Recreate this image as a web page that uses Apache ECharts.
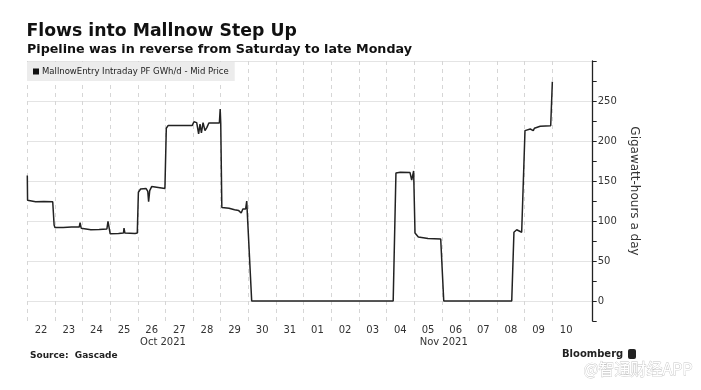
<!DOCTYPE html>
<html>
<head>
<meta charset="utf-8">
<script src="https://cdn.jsdelivr.net/npm/echarts@6/dist/echarts.min.js"></script>
<style>
html,body{margin:0;padding:0;background:#fff;}
#chart{width:701px;height:390px;}
</style>
</head>
<body>
<div id="chart"></div>
<script>
// ---- data (x = days since 22 Oct 2021 00:00, y = GWh/d) ----
var flowDays = [
  0, 0.01, 0.3, 0.6, 0.92, 0.97, 1.0, 1.3, 1.6, 1.88,
  1.91, 1.95, 2.0, 2.3, 2.6, 2.88, 2.92, 2.96, 3.0, 3.3,
  3.48, 3.5, 3.53, 3.9, 3.98, 4.02, 4.1, 4.3, 4.36, 4.39,
  4.43, 4.5, 4.55, 4.98, 5.03, 5.1, 5.5, 5.97, 6.03, 6.13,
  6.2, 6.25, 6.3, 6.36, 6.43, 6.5, 6.57, 6.95, 6.98, 7.0,
  7.04, 7.1, 7.3, 7.5, 7.65, 7.74, 7.8, 7.9, 7.94, 7.98,
  8.02, 8.12, 13.24, 13.34, 13.5, 13.85, 13.91, 13.98, 14.03, 14.15,
  14.5, 14.96, 14.98, 15.07, 17.53, 17.61, 17.71, 17.89, 17.95, 18.01,
  18.2, 18.31, 18.35, 18.56, 18.94, 19.0
];
var flowValues = [
  157, 126, 124, 124.5, 124, 95, 92, 92, 92.5, 92.5,
  98, 91, 89.5, 89, 89.5, 90, 99.5, 97, 84, 84.5,
  85, 91, 85, 84.5, 85, 136, 140, 140.5, 137, 124,
  138, 143, 140.5, 140.5, 216, 219.5, 219.5, 219.5, 224, 223,
  209, 221, 210, 223, 213, 217, 222.5, 222.5, 240, 222,
  117, 115.5, 116, 114, 113, 110, 115, 115, 125, 97,
  96, 0, 0, 160, 161, 160.5, 151, 162.5, 85, 80,
  78, 77.5, 80, 0, 0, 86, 89, 86, 87, 213,
  215, 213, 216, 218.5, 219, 274
];
var dayLabels = ['22','23','24','25','26','27','28','29','30','31',
                 '01','02','03','04','05','06','07','08','09','10'];
var monthLabels = ['Oct 2021', 'Nov 2021'];
var monthPositions = [4.91, 15.07];
var yTickLabels = [0, 50, 100, 150, 200, 250];
var yGridValues = [0, 50, 100, 150, 200, 250, 300];
var seriesName = 'MallnowEntry Intraday PF GWh/d - Mid Price';

var xMin = 0, xMax = 20.46;
var yMin = -25, yMax = 300;

var seriesData = flowDays.map(function (d, i) { return [d, flowValues[i]]; });
var dayLabelPos = dayLabels.map(function (_, i) { return i + 0.5; });
var dayGridPos = dayLabels.map(function (_, i) { return i; });

var FONT = '"DejaVu Sans", Verdana, sans-serif';

var chart = echarts.init(document.getElementById('chart'), null, {renderer: 'canvas'});
chart.setOption({
  animation: false,
  backgroundColor: '#ffffff',
  title: [
    {text: 'Flows into Mallnow Step Up', left: 26.5, top: 23, padding: 0,
     textStyle: {fontFamily: FONT, fontWeight: 'bold', fontSize: 17.3, color: '#111'}},
    {text: 'Pipeline was in reverse from Saturday to late Monday', left: 27, top: 43, padding: 0,
     textStyle: {fontFamily: FONT, fontWeight: 'bold', fontSize: 12.7, color: '#111'}}
  ],
  legend: {
    left: 27, top: 62,
    padding: [5, 6, 5, 6],
    backgroundColor: '#ececec',
    icon: 'rect', itemWidth: 6, itemHeight: 6, itemGap: 4,
    textStyle: {fontFamily: FONT, fontSize: 8.5, color: '#222', padding: [0, 0, 0, -2]},
    data: [seriesName]
  },
  grid: {left: 27.3, right: 108.3, top: 61, bottom: 69},
  xAxis: [
    {
      type: 'value', min: xMin, max: xMax, interval: 1,
      axisLine: {show: false, onZero: false},
      axisTick: {show: false, customValues: dayGridPos},
      splitLine: {show: true, lineStyle: {color: '#d6d6d6', type: [4, 4], width: 1}},
      axisLabel: {
        show: true, customValues: dayLabelPos, margin: 4,
        fontFamily: FONT, fontSize: 10, color: '#333',
        formatter: function (v) { return dayLabels[Math.floor(v)] || ''; }
      }
    },
    {
      type: 'value', min: xMin, max: xMax, position: 'bottom',
      axisLine: {show: false, onZero: false}, axisTick: {show: false}, splitLine: {show: false},
      axisLabel: {
        show: true, customValues: monthPositions, margin: 16,
        fontFamily: FONT, fontSize: 10, color: '#333',
        formatter: function (v) {
          var i = monthPositions.indexOf(v);
          return i >= 0 ? monthLabels[i] : '';
        }
      }
    }
  ],
  yAxis: [
    {
      type: 'value', position: 'right', min: yMin, max: yMax, interval: 25,
      axisLine: {show: true, onZero: false, lineStyle: {color: '#222', width: 1.3}},
      axisTick: {show: true, inside: false, length: 4, lineStyle: {color: '#222'}},
      axisLabel: {
        margin: 5, fontFamily: FONT, fontSize: 10, color: '#333',
        formatter: function (v) { return yTickLabels.indexOf(v) >= 0 ? String(v) : ''; }
      },
      splitLine: {show: false},
      name: 'Gigawatt-hours a day', nameLocation: 'middle', nameRotate: -90, nameGap: 28,
      nameTextStyle: {fontFamily: FONT, fontSize: 12, color: '#333'}
    },
    {
      type: 'value', position: 'right', min: yMin, max: yMax,
      axisLine: {show: false, onZero: false},
      axisTick: {show: false, customValues: yGridValues},
      axisLabel: {show: false},
      splitLine: {show: true, lineStyle: {color: '#e4e4e4', width: 1}}
    }
  ],
  series: [
    {
      name: seriesName, type: 'line', xAxisIndex: 0, yAxisIndex: 0,
      data: seriesData, showSymbol: false, symbol: 'none',
      itemStyle: {color: '#111'},
      lineStyle: {color: '#222', width: 1.5},
      z: 5
    }
  ],
  graphic: [
    {type: 'text', left: 30, top: 351, style: {text: 'Source:  Gascade', font: 'bold 9px ' + FONT, fill: '#222'}},
    {type: 'text', left: 562, top: 349.5, style: {text: 'Bloomberg', font: 'bold 10px ' + FONT, fill: '#222'}},
    {type: 'rect', left: 628, top: 349, shape: {width: 8, height: 10, r: 2}, style: {fill: '#222'}},
    {type: 'text', left: 583, top: 361, style: {text: '@智通财经APP', font: '16px "Noto Sans CJK SC", sans-serif', fill: '#ffffff', stroke: '#c4c4c4', lineWidth: 0.8}}
  ]
});
</script>
</body>
</html>
